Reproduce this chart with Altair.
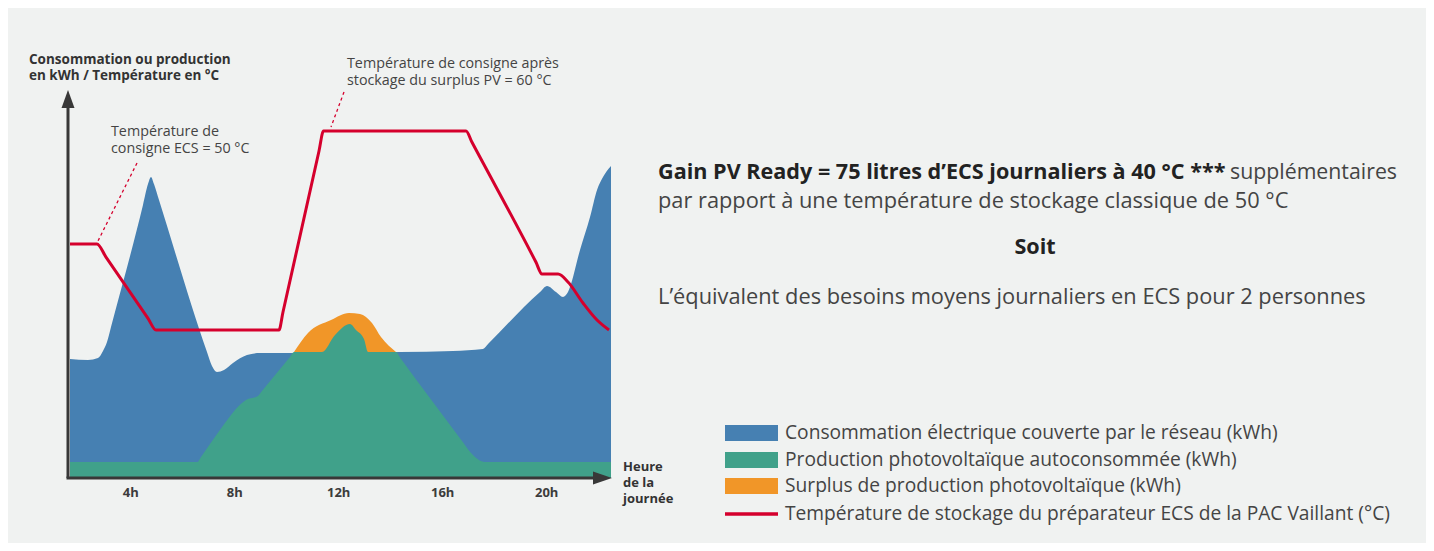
import altair as alt
import pandas as pd

# ---------------- data ----------------
# x = hour of the day, v = kWh (arbitrary units), t = °C
blue_h = [1.685, 2.377, 2.762, 2.954, 3.108, 3.262, 4.492, 4.685, 4.800, 4.915, 5.108, 6.954,
          7.146, 7.338, 7.608, 7.954, 8.492, 8.992, 10.531, 14.377, 16.415, 17.569, 17.762,
          19.762, 20.031, 20.377, 20.646, 20.838, 21.300, 21.685, 21.954, 22.185, 22.492]
blue_v = [3.107, 3.081, 3.133, 3.316, 3.551, 3.943, 7.128, 7.676, 7.859, 7.676, 7.258, 3.290,
          2.924, 2.768, 2.820, 3.003, 3.211, 3.264, 3.264, 3.290, 3.316, 3.368, 3.499,
          4.856, 5.013, 4.856, 4.726, 4.856, 5.953, 6.815, 7.520, 7.859, 8.146]

green_h = [1.685, 6.588, 6.723, 7.877, 8.031, 8.454, 8.915, 9.069, 10.146, 10.300, 11.377,
           11.877, 12.454, 12.685, 12.992, 13.146, 14.223, 14.377, 16.762, 17.108, 17.646, 22.492]
green_v = [0.418, 0.418, 0.548, 1.645, 1.775, 2.037, 2.141, 2.272, 3.159, 3.290, 3.290,
           3.734, 4.021, 3.864, 3.629, 3.290, 3.290, 3.146, 0.966, 0.653, 0.418, 0.418]

orange_h = [10.300, 10.838, 11.723, 12.415, 12.838, 13.300, 13.646, 14.223]
orange_v = [3.290, 3.786, 4.125, 4.308, 4.282, 4.047, 3.681, 3.290]

temp_h = [1.685, 2.723, 3.069, 4.685, 4.992, 9.723, 9.877, 11.262, 11.435, 16.915, 17.146,
          19.608, 19.838, 20.454, 20.838, 21.415, 21.954, 22.415]
temp_c = [50.01, 50.01, 48.85, 43.43, 42.40, 42.40, 43.99, 58.24, 60.01, 60.01, 59.01,
          48.39, 47.35, 47.35, 46.65, 44.79, 43.28, 42.40]

tick_hours = [4, 8, 12, 16, 20]

legend_labels = [
    "Consommation électrique couverte par le réseau (kWh)",
    "Production photovoltaïque autoconsommée (kWh)",
    "Surplus de production photovoltaïque (kWh)",
    "Température de stockage du préparateur ECS de la PAC Vaillant (°C)",
]

# ---------------- style ----------------
BLUE = "#4680b2"
GREEN = "#40a18a"
ORANGE = "#f19628"
RED = "#d5002d"
BG = "#f0f2f1"
AXIS = "#383838"
FONT = "Open Sans"

W, H = 541, 388
X_DOM = [1.685, 22.492]
KWH_DOM = [0, 10.13]
T_DOM = [29.3, 63.64]

xenc = alt.X("h:Q", scale=alt.Scale(domain=X_DOM, nice=False, zero=False),
             axis=alt.Axis(values=tick_hours, labelExpr="datum.value + 'h'", title=None,
                           domain=False, ticks=False, grid=False, labelPadding=8,
                           labelFont=FONT, labelFontSize=13, labelFontWeight="bold",
                           labelColor="#3c3c3c"))
ykwh = alt.Y("v:Q", scale=alt.Scale(domain=KWH_DOM, nice=False), axis=None)

blue = alt.Chart(pd.DataFrame({"h": blue_h, "v": blue_v})).mark_area(
    color=BLUE, interpolate="monotone").encode(x=xenc, y=ykwh)
orange = alt.Chart(pd.DataFrame({"h": orange_h, "v": orange_v})).mark_area(
    color=ORANGE, interpolate="monotone").encode(x=xenc, y=ykwh)
green = alt.Chart(pd.DataFrame({"h": green_h, "v": green_v})).mark_area(
    color=GREEN, interpolate="monotone").encode(x=xenc, y=ykwh)

areas = alt.layer(blue, orange, green)

temp = alt.Chart(pd.DataFrame({"h": temp_h, "t": temp_c})).mark_line(
    color=RED, strokeWidth=3, interpolate="monotone").encode(
    x=xenc, y=alt.Y("t:Q", scale=alt.Scale(domain=T_DOM, nice=False, zero=False), axis=None))

data_layer = alt.layer(areas, temp).resolve_scale(y="independent")

one = pd.DataFrame({"a": [0]})


def txt(s, x, y, size, weight="normal", color="#444444", align="left"):
    return alt.Chart(pd.DataFrame({"s": [s]})).mark_text(
        font=FONT, fontSize=size, fontWeight=weight, color=color, align=align,
        baseline="middle").encode(text="s:N", x=alt.value(x), y=alt.value(y))


# axes (drawn with arrows)
yaxis_line = alt.Chart(one).mark_rule(color=AXIS, strokeWidth=3).encode(
    x=alt.value(-2), y=alt.value(H), y2=alt.value(14))
yaxis_arrow = alt.Chart(one).mark_point(
    shape="M0,-1L0.72,1L-0.72,1Z", filled=True, color=AXIS, opacity=1, size=324).encode(
    x=alt.value(-2), y=alt.value(9))
xaxis_line = alt.Chart(one).mark_rule(color=AXIS, strokeWidth=3).encode(
    x=alt.value(-3.5), x2=alt.value(526), y=alt.value(H))
xaxis_arrow = alt.Chart(one).mark_point(
    shape="M1,0L-1,0.68L-1,-0.68Z", filled=True, color=AXIS, opacity=1, size=361).encode(
    x=alt.value(532.5), y=alt.value(H))

# dashed annotation leaders
dash1 = alt.Chart(one).mark_rule(color=RED, strokeWidth=1.3, strokeDash=[3, 3]).encode(
    x=alt.value(67), y=alt.value(73), x2=alt.value(28), y2=alt.value(151))
dash2 = alt.Chart(one).mark_rule(color=RED, strokeWidth=1.3, strokeDash=[3, 3]).encode(
    x=alt.value(274), y=alt.value(2), x2=alt.value(261), y2=alt.value(37))

texts = [
    txt("Consommation ou production", -41, -30, 13.5, "bold", "#333333"),
    txt("en kWh / Température en °C", -41, -14, 13.5, "bold", "#333333"),
    txt("Température de", 41, 41.5, 14.3),
    txt("consigne ECS = 50 °C", 41, 58.5, 14.3),
    txt("Température de consigne après", 277, -26.5, 14.3),
    txt("stockage du surplus PV = 60 °C", 277, -9.5, 14.3),
    txt("Heure", 553, 377, 13, "bold", "#333333"),
    txt("de la", 553, 393, 13, "bold", "#333333"),
    txt("journée", 553, 409, 13, "bold", "#333333"),
    txt("Gain PV Ready = 75 litres d’ECS journaliers à 40 °C ***", 588, 83, 21.6, "bold", "#222222"),
    txt("supplémentaires", 1327, 83, 21.3, "normal", "#444444", "right"),
    txt("par rapport à une température de stockage classique de 50 °C", 588, 111, 21.8),
    txt("Soit", 965, 158, 21.6, "bold", "#222222", "center"),
    txt("L’équivalent des besoins moyens journaliers en ECS pour 2 personnes", 588, 207, 21.8),
]

# legend
leg_y = [343, 370, 396, 424]
leg_colors = [BLUE, GREEN, ORANGE]
legend_layers = []
for i, c in enumerate(leg_colors):
    legend_layers.append(alt.Chart(one).mark_rect(color=c).encode(
        x=alt.value(655), x2=alt.value(708), y=alt.value(leg_y[i] - 8), y2=alt.value(leg_y[i] + 8)))
legend_layers.append(alt.Chart(one).mark_rule(color=RED, strokeWidth=3.5).encode(
    x=alt.value(655), x2=alt.value(708), y=alt.value(leg_y[3])))
for i, lab in enumerate(legend_labels):
    legend_layers.append(txt(lab, 715, leg_y[i], 19.2))

chart = alt.layer(
    data_layer, xaxis_line, xaxis_arrow, yaxis_line, yaxis_arrow, dash1, dash2,
    *texts, *legend_layers
).properties(
    width=W, height=H,
    autosize=alt.AutoSizeParams(type="none"),
    padding={"left": 62, "top": 82, "right": 815, "bottom": 65},
    background=BG,
).configure_view(strokeWidth=0)

chart.save("out.html", embed_options={"renderer": "svg", "actions": False})
